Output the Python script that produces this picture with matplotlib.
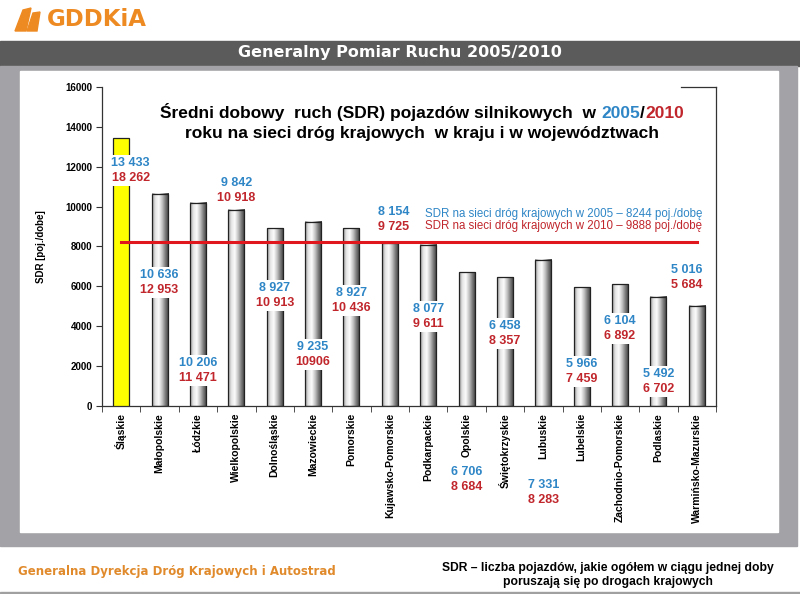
"""Srednie dobowe natezenie ruchu (SDR) 2005/2010 - odtworzenie slajdu GDDKiA."""

import numpy as np
import matplotlib
matplotlib.use("Agg")
import matplotlib.pyplot as plt
from matplotlib.colors import LinearSegmentedColormap
from matplotlib.patches import Rectangle, Polygon

regions = ["Śląskie", "Małopolskie", "Łódzkie", "Wielkopolskie", "Dolnośląskie",
           "Mazowieckie", "Pomorskie", "Kujawsko-Pomorskie", "Podkarpackie",
           "Opolskie", "Świętokrzyskie", "Lubuskie", "Lubelskie",
           "Zachodnio-Pomorskie", "Podlaskie", "Warmińsko-Mazurskie"]
sdr_2005 = [13433, 10636, 10206, 9842, 8927, 9235, 8927, 8154, 8077,
            6706, 6458, 7331, 5966, 6104, 5492, 5016]
sdr_2010 = [18262, 12953, 11471, 10918, 10913, 10906, 10436, 9725, 9611,
            8684, 8357, 8283, 7459, 6892, 6702, 5684]
labels_2005 = ["13 433", "10 636", "10 206", "9 842", "8 927", "9 235", "8 927",
               "8 154", "8 077", "6 706", "6 458", "7 331", "5 966", "6 104",
               "5 492", "5 016"]
labels_2010 = ["18 262", "12 953", "11 471", "10 918", "10 913", "10906",
               "10 436", "9 725", "9 611", "8 684", "8 357", "8 283", "7 459",
               "6 892", "6 702", "5 684"]
avg_2005 = 8244
avg_2010 = 9888
yticks = list(range(0, 16001, 2000))

# where the value labels sit (y of the 2005 line, data units) - layout only
label_y = [12190, 6570, 2160, 11180, 5920, 2960, 5670, 9730, 4870,
           -3310, 4010, -3960, 2110, 4260, 1600, 6820]
label_dx = [0.25, 0, 0, 0, 0, 0, 0, 0.1, 0, 0, 0, 0, 0, 0, 0, -0.25]

BLUE = "#2f86c6"
RED = "#c0262c"
ORANGE = "#ee8a22"
W, H = 800, 594

fig = plt.figure(figsize=(8, 5.94), dpi=100)
fig.patch.set_facecolor("white")


def px(x, y, w, h, **kw):
    """Rectangle in pixel coordinates (top-left origin)."""
    fig.patches.append(Rectangle((x / W, 1 - (y + h) / H), w / W, h / H,
                                 transform=fig.transFigure, **kw))


# slide frame
px(0, 41, 800, 25, color="#5b5b5b", zorder=0)
px(0, 66, 797, 480, color="#a3a3a7", zorder=0)
px(20, 71, 758, 461, color="white", zorder=0)
px(0, 592, 800, 2, color="#a0a0a0", zorder=0)

# logo
logo = [[(15, 31), (23, 10), (31, 8), (26, 31)], [(27, 31), (33, 13), (40, 12), (37, 31)]]
for pts in logo:
    fig.patches.append(Polygon([(a / W, 1 - b / H) for a, b in pts], closed=True,
                               transform=fig.transFigure, color=ORANGE, zorder=1))
fig.text(47 / W, 1 - 19 / H, "GDDKiA", color=ORANGE, fontsize=16.5, fontweight="bold",
         family="DejaVu Sans", va="center", ha="left")
fig.text(0.5, 1 - 53 / H, "Generalny Pomiar Ruchu 2005/2010", color="white",
         fontsize=11.5, fontweight="bold", family="DejaVu Sans", ha="center", va="center")

ax = fig.add_axes([102 / W, 1 - 406 / H, (716 - 102) / W, (406 - 87) / H], zorder=2)
ax.set_facecolor("none")
x = np.arange(len(regions))
bw = 0.42

cmap = LinearSegmentedColormap.from_list(
    "cyl", ["#9a9a9a", "#e6e6e6", "#fbfbfb", "#c4c4c4", "#7a7a7a", "#3c3c3c"])
grad = np.linspace(0, 1, 64).reshape(1, -1)
for i, v in enumerate(sdr_2005):
    if i == 0:
        continue
    ax.imshow(grad, cmap=cmap, aspect="auto", zorder=2,
              extent=(x[i] - bw / 2, x[i] + bw / 2, 0, v))
colors = ["#ffff00"] + ["none"] * (len(regions) - 1)
ax.bar(x, sdr_2005, width=bw, color=colors, edgecolor="#222222", linewidth=0.9, zorder=3)

ax.plot([x[0], x[-1]], [avg_2005, avg_2005], color="#e0171c", linewidth=2.2, zorder=4)

for i in range(len(regions)):
    xi = x[i] + label_dx[i]
    ax.text(xi, label_y[i], labels_2005[i], color=BLUE, fontsize=9, fontweight="bold",
            family="Liberation Sans", ha="center", va="center", zorder=5,
            bbox=dict(facecolor="white", edgecolor="none", pad=1.5),
            clip_on=False)
    ax.text(xi, label_y[i] - 760, labels_2010[i], color=RED, fontsize=9,
            fontweight="bold", family="Liberation Sans", ha="center", va="center",
            zorder=5, bbox=dict(facecolor="white", edgecolor="none", pad=1.5),
            clip_on=False)

ax.set_xlim(-0.5, len(regions) - 0.5)
ax.set_ylim(0, 16000)
ax.set_yticks(yticks)
ax.set_yticklabels([str(t) for t in yticks], fontsize=7, fontweight="bold",
                   family="Liberation Sans")
ax.set_xticks(x)
ax.set_xticklabels(regions, rotation=90, fontsize=7.5, fontweight="bold",
                   family="Liberation Sans")
ax.set_xticks(np.arange(-0.5, len(regions), 1), minor=True)
ax.tick_params(axis="x", which="major", length=0, pad=5)
ax.tick_params(axis="x", which="minor", length=4, direction="out", color="#333333")
ax.tick_params(axis="y", length=4, direction="out", color="#333333", pad=3)
for s in ax.spines.values():
    s.set_color("#333333")
    s.set_linewidth(0.9)
ax.spines["top"].set_bounds(14.6, 15.5)
ax.set_ylabel("SDR [poj./dobe]", fontsize=7, fontweight="bold",
              family="Liberation Sans", labelpad=14)

# legend lines
ax.text(7.92, 9630, f"SDR na sieci dróg krajowych w 2005 – {avg_2005} poj./dobę",
        color=BLUE, fontsize=8.3, family="Liberation Sans", ha="left", va="center")
ax.text(7.92, 9030, f"SDR na sieci dróg krajowych w 2010 – {avg_2010} poj./dobę",
        color=RED, fontsize=8.3, family="Liberation Sans", ha="left", va="center")

# chart title with coloured years, pieces laid out one after another
title_kw = dict(fontsize=12.5, fontweight="bold", family="Liberation Sans")
parts = [("Średni dobowy  ruch (SDR) pojazdów silnikowych  w ", "black"),
         ("2005", BLUE), ("/", "black"), ("2010", RED)]
pieces = [fig.text(0, 0, s, color=c, ha="left", va="baseline", **title_kw)
          for s, c in parts]
renderer = fig.canvas.get_renderer()
widths = [p.get_window_extent(renderer).width / W for p in pieces]
cur = 422 / W - sum(widths) / 2
for p, w in zip(pieces, widths):
    p.set_position((cur, 1 - 118 / H))
    cur += w
fig.text(422 / W, 1 - 138 / H, "roku na sieci dróg krajowych  w kraju i w województwach",
         ha="center", va="baseline", **title_kw)

# footer
fig.text(18 / W, 1 - 572 / H, "Generalna Dyrekcja Dróg Krajowych i Autostrad",
         color="#e08a2c", fontsize=8.5, fontweight="bold", family="DejaVu Sans",
         ha="left", va="center")
fig.text(608 / W, 1 - 575 / H,
         "SDR – liczba pojazdów, jakie ogółem w ciągu jednej doby\n"
         "poruszają się po drogach krajowych",
         fontsize=8.7, fontweight="bold", family="Liberation Sans", ha="center",
         va="center", linespacing=1.15)

fig.savefig("out.png", dpi=100)
